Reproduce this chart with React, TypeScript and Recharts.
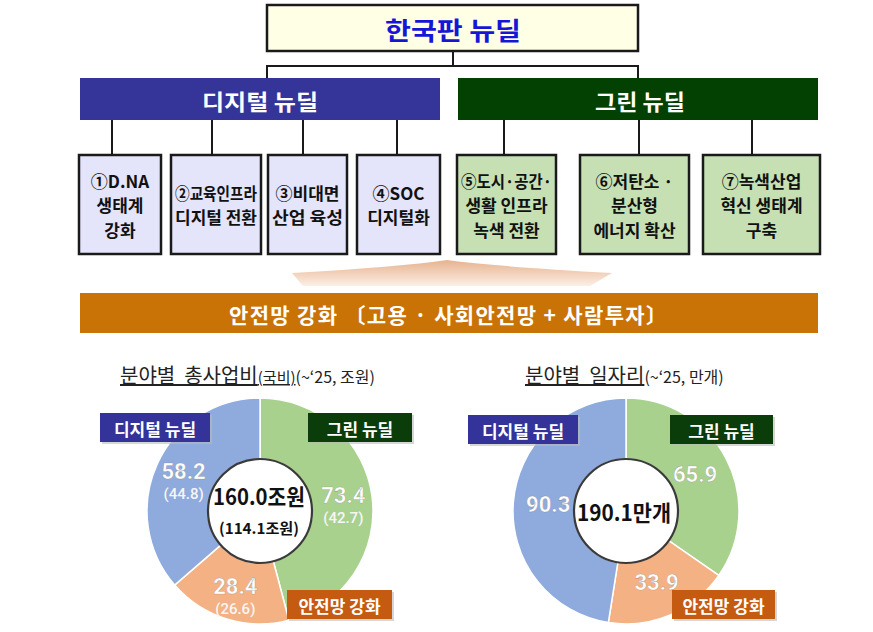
import { PieChart, Pie, Cell, LabelList } from 'recharts';

// slice order runs clockwise from 12 o'clock
const sectors = ['그린 뉴딜', '안전망 강화', '디지털 뉴딜'];
const sectorColors = ['#A9D18E', '#F4B183', '#8FAADC'];
const tagColors = ['#0B3D0B', '#C55A11', '#333399'];
const budgetTotal = [73.4, 28.4, 58.2];
const budgetNational = [42.7, 26.6, 44.8];
const jobs = [65.9, 33.9, 90.3];

const digitalTasks = [
  ['①D.NA', '생태계', '강화'],
  ['②교육인프라', '디지털 전환'],
  ['③비대면', '산업 육성'],
  ['④SOC', '디지털화'],
];
const greenTasks = [
  ['⑤도시·공간·', '생활 인프라', '녹색 전환'],
  ['⑥저탄소 ·', '분산형', '에너지 확산'],
  ['⑦녹색산업', '혁신 생태계', '구축'],
];

const FONT = "'Noto Sans CJK KR', 'Noto Sans', sans-serif";
const NUM_FONT = "Roboto, 'Liberation Sans', sans-serif";
const RAD = Math.PI / 180;

const budgetData = sectors.map((name, i) => ({ name, value: budgetTotal[i], national: budgetNational[i] }));
const jobsData = sectors.map((name, i) => ({ name, value: jobs[i], national: null as number | null }));
const sum = (a: number[]) => a.reduce((s, v) => s + v, 0).toFixed(1);

// box layout: [left, right, connector x]
const digitalBoxes = [[79, 161, 112], [171, 261, 212], [268, 347, 303], [357, 440, 397]];
const greenBoxes = [[457, 556, 504], [580, 689, 639], [703, 820, 752]];

const PIES = [
  { data: budgetData, cx: 260, withSub: true },
  { data: jobsData, cx: 626, withSub: false },
];

// value label placed at the middle of each ring segment
function ringLabel(data: { national: number | null }[], withSub: boolean) {
  return (p: any) => {
    const vb = p.viewBox || {};
    const mid = (vb.startAngle + vb.endAngle) / 2;
    const r = withSub ? 84 : 78;
    const x = vb.cx + r * Math.cos(-mid * RAD);
    const y = vb.cy + r * Math.sin(-mid * RAD) - (withSub ? 5 : 0);
    const sub = data[p.index]?.national;
    return (
      <g key={`lbl-${p.index}`}>
        <text x={x} y={y} textAnchor="middle" dominantBaseline="central" fill="#fff"
          stroke="rgba(80,80,80,0.35)" strokeWidth={0.6}
          fontFamily={NUM_FONT} fontSize={22} fontWeight={700}>{Number(p.value).toFixed(1)}</text>
        {withSub && sub != null && (
          <text x={x} y={y + 23} textAnchor="middle" dominantBaseline="central" fill="#f6f6f6"
            fontFamily={NUM_FONT} fontSize={15} fontWeight={500}>({sub.toFixed(1)})</text>
        )}
      </g>
    );
  };
}

function Tag({ x, y, w, h, fill, label }: { x: number; y: number; w: number; h: number; fill: string; label: string }) {
  return (
    <g>
      <rect x={x + 2} y={y + 2} width={w} height={h} fill="#bbb" opacity={0.6} />
      <rect x={x} y={y} width={w} height={h} fill={fill} />
      <text x={x + w / 2} y={y + h / 2 + 1} textAnchor="middle" dominantBaseline="central" fill="#fff"
        fontSize={17} fontWeight={700}>{label}</text>
    </g>
  );
}

function TaskBox({ box, lines, fill }: { box: number[]; lines: string[]; fill: string }) {
  const [l, r, cxLine] = box;
  const mid = (l + r) / 2;
  const top = 155, bottom = 254;
  const cy = (top + bottom) / 2;
  const lh = 24.5;
  const maxW = r - l - 8;
  return (
    <g>
      <line x1={cxLine} y1={120} x2={cxLine} y2={top} stroke="#1a1a1a" strokeWidth={2} />
      <rect x={l} y={top} width={r - l} height={bottom - top} fill={fill} stroke="#1a1a1a" strokeWidth={2.5} />
      {lines.map((t, i) => {
        const y = cy + (i - (lines.length - 1) / 2) * lh;
        const est = [...t].reduce((s, ch) => s + (ch === ' ' ? 5 : /[A-Za-z.·]/.test(ch) ? 10 : 17), 0);
        return (
          <text key={i} x={mid} y={y} textAnchor="middle" dominantBaseline="central" fill="#111"
            fontSize={17} fontWeight={600}
            {...(est > maxW ? { textLength: maxW, lengthAdjust: 'spacingAndGlyphs' } : {})}>{t}</text>
        );
      })}
    </g>
  );
}

const layer = { position: 'absolute' as const, left: 0, top: 0 };

export default function App() {
  return (
    <div style={{ position: 'absolute', left: 0, top: 0, width: 873, height: 632, background: '#fff', fontFamily: FONT }}>
      {/* slices */}
      <div style={layer}>
        <PieChart width={873} height={632} margin={{ top: 0, right: 0, bottom: 0, left: 0 }}>
          {PIES.map((pc, k) => (
            <Pie key={k} data={pc.data} dataKey="value" cx={pc.cx} cy={511} innerRadius={52} outerRadius={113}
              startAngle={90} endAngle={-270} stroke="#fff" strokeWidth={1.5} isAnimationActive={false}>
              {pc.data.map((d, i) => <Cell key={d.name} fill={sectorColors[i]} />)}
            </Pie>
          ))}
        </PieChart>
      </div>

      <svg width={873} height={632} style={{ ...layer, pointerEvents: 'none' }} fontFamily={FONT}>
        <defs>
          <linearGradient id="wedge" x1="0" y1="0" x2="0" y2="1">
            <stop offset="0%" stopColor="#E4AA82" />
            <stop offset="100%" stopColor="#FBEDE3" />
          </linearGradient>
        </defs>

        {/* title box */}
        <rect x={267} y={5} width={371} height={46} fill="#FFFFE6" stroke="#1a1a1a" strokeWidth={2.5} />
        <text x={453} y={29} textAnchor="middle" dominantBaseline="central" fill="#1616D6" fontSize={25} fontWeight={700}
          textLength={136} lengthAdjust="spacingAndGlyphs">한국판 뉴딜</text>
        <line x1={453} y1={51} x2={453} y2={66} stroke="#1a1a1a" strokeWidth={2} />
        <polyline points="267,78 267,66 638,66 638,78" fill="none" stroke="#1a1a1a" strokeWidth={2} />

        {/* category bars */}
        <rect x={80} y={78} width={360} height={42} fill="#353599" />
        <text x={260} y={100} textAnchor="middle" dominantBaseline="central" fill="#fff" fontSize={22} fontWeight={700}
          textLength={116} lengthAdjust="spacingAndGlyphs">디지털 뉴딜</text>
        <rect x={458} y={78} width={360} height={42} fill="#024102" />
        <text x={640} y={100} textAnchor="middle" dominantBaseline="central" fill="#fff" fontSize={22} fontWeight={700}
          textLength={90} lengthAdjust="spacingAndGlyphs">그린 뉴딜</text>

        {digitalTasks.map((lines, i) => <TaskBox key={i} box={digitalBoxes[i]} lines={lines} fill="#E4E4FA" />)}
        {greenTasks.map((lines, i) => <TaskBox key={i} box={greenBoxes[i]} lines={lines} fill="#C6E0B4" />)}

        {/* wedge into safety-net bar */}
        <path d="M 292 273 Q 400 267 447 260 Q 500 267 612 273 L 590 286 L 303 286 Z" fill="url(#wedge)" opacity={0.9} />

        <rect x={80} y={293} width={738} height={40} fill="#C97306" />
        <text x={448} y={314} textAnchor="middle" dominantBaseline="central" fill="#fff" fontSize={21} fontWeight={700}
          textLength={438} lengthAdjust="spacing" style={{ whiteSpace: 'pre' }}>안전망 강화 〔고용 · 사회안전망 + 사람투자〕</text>

        {/* chart titles */}
        <text x={120} y={383} fill="#222" fontSize={20} style={{ whiteSpace: 'pre' }}>
          <tspan textDecoration="underline">분야별  총사업비</tspan>
          <tspan fontSize={15} textDecoration="underline">(국비)</tspan>
          <tspan fontSize={16}>(~‘25, 조원)</tspan>
        </text>
        <text x={525} y={383} fill="#222" fontSize={20} style={{ whiteSpace: 'pre' }}>
          <tspan textDecoration="underline">분야별  일자리</tspan>
          <tspan fontSize={16}>(~‘25, 만개)</tspan>
        </text>

        {/* centre holes */}
        <circle cx={260} cy={511} r={52} fill="#fff" stroke="#3a3a3a" strokeWidth={2.2} />
        <text x={259} y={495} textAnchor="middle" dominantBaseline="central" fill="#111" fontSize={22} fontWeight={700}
          textLength={92} lengthAdjust="spacingAndGlyphs">{sum(budgetTotal)}조원</text>
        <text x={259} y={527} textAnchor="middle" dominantBaseline="central" fill="#111" fontSize={15} fontWeight={700}
          textLength={80} lengthAdjust="spacingAndGlyphs">({sum(budgetNational)}조원)</text>
        <circle cx={626} cy={511} r={52} fill="#fff" stroke="#3a3a3a" strokeWidth={2.2} />
        <text x={624} y={511} textAnchor="middle" dominantBaseline="central" fill="#111" fontSize={22} fontWeight={700}
          textLength={94} lengthAdjust="spacingAndGlyphs">{sum(jobs)}만개</text>

        {/* sector tags */}
        <Tag x={100} y={413} w={110} h={29} fill={tagColors[2]} label={sectors[2]} />
        <Tag x={308} y={413} w={104} h={29} fill={tagColors[0]} label={sectors[0]} />
        <Tag x={287} y={590} w={105} h={29} fill={tagColors[1]} label={sectors[1]} />
        <Tag x={468} y={415} w={110} h={29} fill={tagColors[2]} label={sectors[2]} />
        <Tag x={670} y={415} w={103} h={29} fill={tagColors[0]} label={sectors[0]} />
        <Tag x={672} y={590} w={103} h={29} fill={tagColors[1]} label={sectors[1]} />
      </svg>

      {/* slice value labels, kept above the tags */}
      <div style={{ ...layer, pointerEvents: 'none' }}>
        <PieChart width={873} height={632} margin={{ top: 0, right: 0, bottom: 0, left: 0 }}>
          {PIES.map((pc, k) => (
            <Pie key={k} data={pc.data} dataKey="value" cx={pc.cx} cy={511} innerRadius={52} outerRadius={113}
              startAngle={90} endAngle={-270} fill="none" stroke="none" isAnimationActive={false}>
              <LabelList dataKey="value" content={ringLabel(pc.data, pc.withSub)} />
            </Pie>
          ))}
        </PieChart>
      </div>
    </div>
  );
}
